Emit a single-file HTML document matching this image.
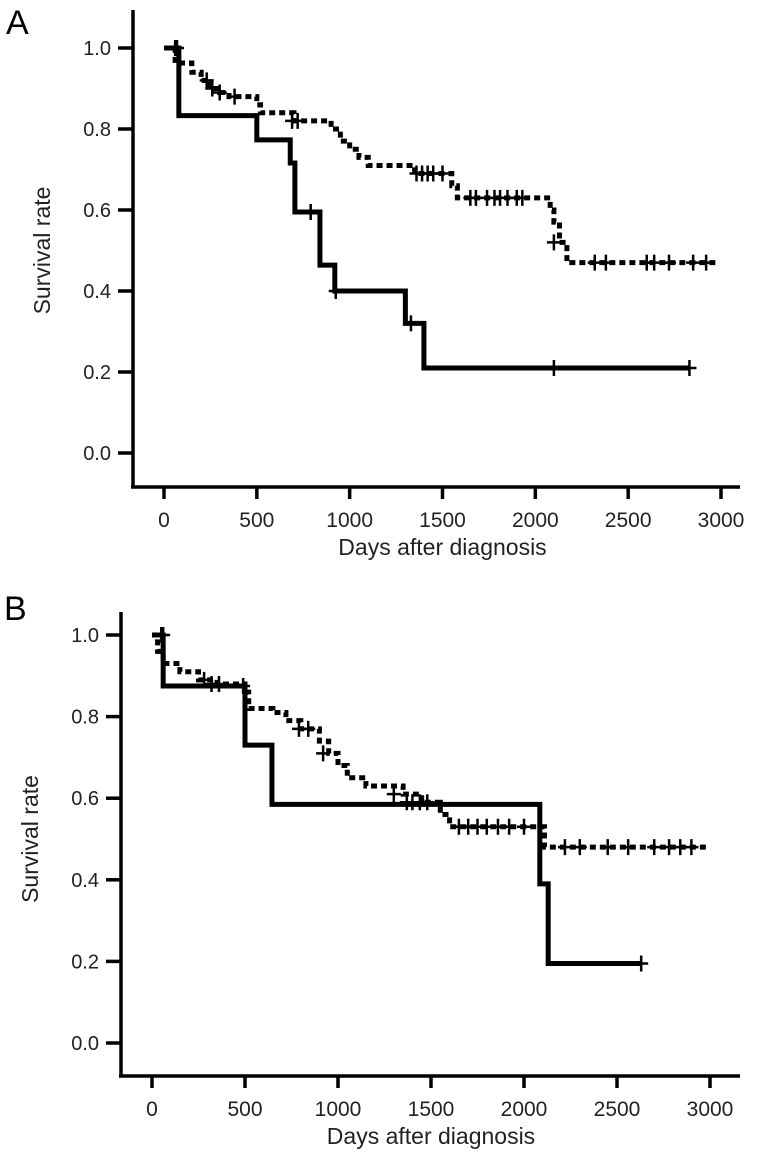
<!DOCTYPE html>
<html><head><meta charset="utf-8"><style>
html,body{margin:0;padding:0;background:#fff;}
svg{display:block;font-family:"Liberation Sans",Arial,sans-serif;}
</style></head><body>
<svg id="svg" width="760" height="1152" viewBox="0 0 760 1152" xmlns="http://www.w3.org/2000/svg"></svg>
<script>
const xTicks=[0,500,1000,1500,2000,2500,3000];
const yTicks=[0,0.2,0.4,0.6,0.8,1.0];
const aSolidDays=[0,80,500,680,705,840,920,1300,1400,2830];
const aSolidSurv=[1.0,0.833,0.773,0.716,0.595,0.464,0.40,0.32,0.21,0.21];
const aSolidCens=[[60,1.0],[790,0.595],[925,0.40],[1330,0.32],[2100,0.21],[2830,0.21]];
const aDashDays=[0,60,150,200,250,300,350,500,520,700,900,950,1000,1050,1100,1350,1550,1580,2050,2080,2100,2130,2170,2980];
const aDashSurv=[1.0,0.963,0.94,0.92,0.90,0.89,0.88,0.86,0.84,0.82,0.80,0.77,0.75,0.73,0.71,0.69,0.66,0.63,0.63,0.60,0.57,0.52,0.47,0.47];
const aDashCens=[[70,1.0],[230,0.92],[260,0.90],[300,0.89],[380,0.88],[690,0.82],[720,0.82],[1360,0.69],[1390,0.69],[1420,0.69],[1450,0.69],[1500,0.69],[1650,0.63],[1680,0.63],[1740,0.63],[1780,0.63],[1810,0.63],[1850,0.63],[1900,0.63],[1930,0.63],[2100,0.52],[2320,0.47],[2380,0.47],[2600,0.47],[2640,0.47],[2720,0.47],[2850,0.47],[2920,0.47]];
const bSolidDays=[0,60,500,645,2085,2130,2630];
const bSolidSurv=[1.0,0.875,0.73,0.585,0.39,0.195,0.195];
const bSolidCens=[[50,1.0],[490,0.875],[2630,0.195]];
const bDashDays=[0,30,60,150,250,350,500,520,650,720,800,900,950,1000,1050,1150,1350,1450,1550,1600,2100,2110,2980];
const bDashSurv=[1.0,0.96,0.93,0.91,0.89,0.88,0.86,0.82,0.81,0.79,0.77,0.74,0.71,0.68,0.65,0.63,0.61,0.59,0.56,0.53,0.53,0.48,0.48];
const bDashCens=[[60,1.0],[280,0.89],[320,0.88],[360,0.88],[790,0.77],[840,0.77],[920,0.71],[1300,0.61],[1370,0.59],[1400,0.59],[1440,0.59],[1480,0.59],[1650,0.53],[1700,0.53],[1750,0.53],[1800,0.53],[1860,0.53],[1920,0.53],[2000,0.53],[2220,0.48],[2300,0.48],[2450,0.48],[2560,0.48],[2700,0.48],[2780,0.48],[2840,0.48],[2900,0.48]];

const NS="http://www.w3.org/2000/svg";
const svg=document.getElementById('svg');
function mk(tag,attrs,parent){const e=document.createElementNS(NS,tag);for(const k in attrs)e.setAttribute(k,attrs[k]);(parent||svg).appendChild(e);return e;}

function panel(cfg){
  const g=mk('g',{});
  
  
  const sx=d=>cfg.x0+(cfg.x3000-cfg.x0)*d/3000;
  const sy=v=>cfg.y0+(cfg.y1-cfg.y0)*v;
  const lab=mk('text',{x:cfg.labelX,y:cfg.labelY,'font-size':34,fill:'#000'},g);lab.textContent=cfg.id.toUpperCase();
  
  
  const ya=mk('line',{x1:cfg.ax,y1:cfg.axTop,x2:cfg.ax,y2:cfg.axY,stroke:'#000','stroke-width':3.5},g);
  
  
  const xa=mk('line',{x1:cfg.ax-2,y1:cfg.axY,x2:740,y2:cfg.axY,stroke:'#000','stroke-width':3.5},g);
  
  
  yTicks.forEach(v=>{
    mk('line',{x1:cfg.ax-15,y1:sy(v),x2:cfg.ax,y2:sy(v),stroke:'#000','stroke-width':3.5},g);
    const t=mk('text',{x:cfg.ax-22,y:sy(v)+7,'font-size':20,'text-anchor':'end',fill:'#222'},g);t.textContent=v.toFixed(1);
    
    
  });
  xTicks.forEach(d=>{
    mk('line',{x1:sx(d),y1:cfg.axY,x2:sx(d),y2:cfg.axY+12,stroke:'#000','stroke-width':3.5},g);
    const t=mk('text',{x:sx(d),y:cfg.axY+40,'font-size':21,'text-anchor':'middle',fill:'#222'},g);t.textContent=d;
    
    
  });
  const xt=mk('text',{x:(sx(0)+sx(3000))/2,y:cfg.axY+68,'font-size':23,'text-anchor':'middle',fill:'#222'},g);xt.textContent='Days after diagnosis';
  
  
  const ytY=(sy(0)+sy(1))/2;
  const yt=mk('text',{x:cfg.ytX,y:ytY,'font-size':23,'text-anchor':'middle',fill:'#222',transform:`rotate(-90 ${cfg.ytX} ${ytY})`},g);yt.textContent='Survival rate';
  
  
  function step(days,surv,dash,w,name){
    let d='M'+sx(days[0])+' '+sy(surv[0]);
    for(let i=1;i<days.length;i++){d+=' H'+sx(days[i])+' V'+sy(surv[i]);}
    const p=mk('path',{d:d,fill:'none',stroke:'#000','stroke-width':w,'stroke-dasharray':dash?'6 4':'none','stroke-linejoin':'miter'},g);
    
    
  }
  function cens(list,name){
    list.forEach(c=>{
      const x=sx(c[0]),y=sy(c[1]);
      const p=mk('path',{d:`M${x-7} ${y} H${x+7} M${x} ${y-8} V${y+8}`,stroke:'#000','stroke-width':2.5},g);
      
      
    });
  }
  step(cfg.dd,cfg.ds,true,5,'dashed-survival-curve');
  cens(cfg.dc,'dashed-censor-mark');
  step(cfg.sd,cfg.ss,false,5,'solid-survival-curve');
  cens(cfg.sc,'solid-censor-mark');
}
panel({id:'a',x0:164,x3000:721,y0:453,y1:48,ax:133,axTop:10,axY:487,labelX:6,labelY:34,ytX:50,
  sd:aSolidDays,ss:aSolidSurv,sc:aSolidCens,dd:aDashDays,ds:aDashSurv,dc:aDashCens});
panel({id:'b',x0:152,x3000:710,y0:1043,y1:635,ax:121,axTop:612,axY:1076,labelX:4,labelY:620,ytX:38,
  sd:bSolidDays,ss:bSolidSurv,sc:bSolidCens,dd:bDashDays,ds:bDashSurv,dc:bDashCens});
</script>
</body></html>
